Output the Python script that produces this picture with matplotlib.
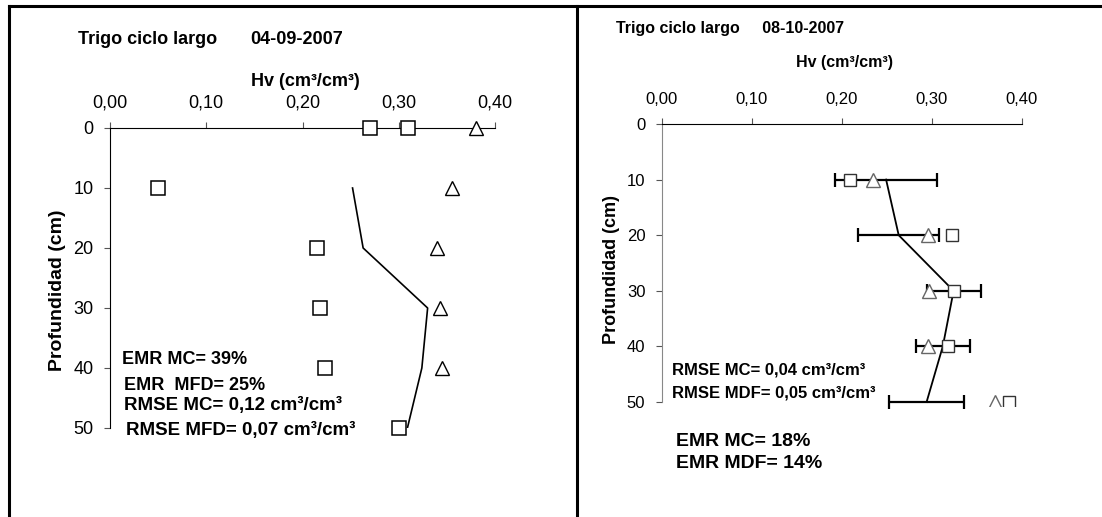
import numpy as np
import matplotlib.pyplot as plt
from matplotlib.lines import Line2D
from matplotlib.ticker import FuncFormatter

plt.rcParams['font.family'] = ['Liberation Sans', 'DejaVu Sans']

W, H = 1102, 517

# ---- left panel: Trigo ciclo largo 04-09-2007
l_sq_depth = [0, 0, 10, 20, 30, 40, 50]
l_sq_hv = [0.27, 0.31, 0.05, 0.215, 0.218, 0.223, 0.30]
l_tri_depth = [0, 10, 20, 30, 40]
l_tri_hv = [0.38, 0.355, 0.340, 0.343, 0.345]
l_line_depth = [10, 20, 30, 40, 50]
l_line_hv = [0.252, 0.263, 0.330, 0.324, 0.309]

# ---- right panel: Trigo ciclo largo 08-10-2007
r_line_depth = [10, 20, 30, 40, 50]
r_line_hv = [0.249, 0.263, 0.324, 0.312, 0.294]
r_line_err = [0.057, 0.045, 0.030, 0.030, 0.0415]
r_sq_depth = [10, 20, 30, 40, 50]
r_sq_hv = [0.209, 0.322, 0.324, 0.318, 0.385]
r_tri_depth = [10, 20, 30, 40, 50]
r_tri_hv = [0.234, 0.295, 0.297, 0.296, 0.370]

xticks = [0.0, 0.1, 0.2, 0.3, 0.4]
yticks = [0, 10, 20, 30, 40, 50]


def fx(px):
    return px / W


def fy(py):
    return 1 - py / H


def box(x0, x1, y0, y1):
    return [fx(x0), fy(y1), fx(x1) - fx(x0), fy(y0) - fy(y1)]


comma = FuncFormatter(lambda v, p: ('%.2f' % v).replace('.', ','))

fig = plt.figure(figsize=(W / 100, H / 100), dpi=100)


def setup(ax, ylim, fs, lcolor):
    ax.set_xlim(0, 0.4)
    ax.set_ylim(ylim, 0)
    ax.xaxis.tick_top()
    ax.set_xticks(xticks)
    ax.set_yticks(yticks)
    ax.xaxis.set_major_formatter(comma)
    for s in ['bottom', 'right']:
        ax.spines[s].set_visible(False)
    ax.spines['top'].set_color('black')
    ax.spines['left'].set_color(lcolor)
    ax.spines['left'].set_bounds(0, 50)
    ax.tick_params(axis='x', direction='out', length=4, width=0.8, pad=8,
                   labelsize=fs, color='#555555')
    ax.tick_params(axis='y', direction='out', length=4, width=0.8, pad=8,
                   labelsize=fs, color='#555555')
    ax.patch.set_alpha(0)


# left axes
ax1 = fig.add_axes(box(110, 495, 128, 428))
setup(ax1, 50, 13, 'black')
ax1.plot(l_line_hv, l_line_depth, color='black', lw=1.2, zorder=3)
ax1.plot(l_sq_hv, l_sq_depth, ls='none', marker='s', ms=9.5, mfc='white',
         mec='black', mew=1.1, zorder=4, clip_on=False)
ax1.plot(l_tri_hv, l_tri_depth, ls='none', marker='^', ms=10, mfc='white',
         mec='black', mew=1.0, zorder=4, clip_on=False)

# right axes (markers at 50 cm are cut by the plot area, as in the source)
r_scale = 5.56
ax2 = fig.add_axes(box(662, 1022, 124, 124 + 50.8 * r_scale))
setup(ax2, 50.8, 12, '#888888')
ax2.errorbar(r_line_hv, r_line_depth, xerr=r_line_err, color='black', lw=1.3,
             elinewidth=1.6, capsize=5, capthick=1.6, zorder=3, clip_on=False)
ax2.plot(r_sq_hv, r_sq_depth, ls='none', marker='s', ms=9, mfc='white',
         mec='#333333', mew=1.0, zorder=4)
ax2.plot(r_tri_hv, r_tri_depth, ls='none', marker='^', ms=9.5, mfc='white',
         mec='#666666', mew=1.0, zorder=4)

bold = dict(fontweight='bold', color='black')

# titles and axis labels
fig.text(fx(78), fy(40), 'Trigo ciclo largo', fontsize=13, va='center', **bold)
fig.text(fx(250), fy(40), '04-09-2007', fontsize=13, va='center', **bold)
fig.text(fx(305), fy(82), 'Hv (cm³/cm³)', fontsize=13, ha='center', va='center', **bold)
fig.text(fx(57), fy(290), 'Profundidad (cm)', fontsize=14, rotation=90,
         ha='center', va='center', **bold)

fig.text(fx(616), fy(28), 'Trigo ciclo largo     08-10-2007', fontsize=11.5,
         va='center', **bold)
fig.text(fx(845), fy(63), 'Hv (cm³/cm³)', fontsize=11.5, ha='center', va='center', **bold)
fig.text(fx(612), fy(270), 'Profundidad (cm)', fontsize=13, rotation=90,
         ha='center', va='center', **bold)

# stats
fig.text(fx(122), fy(360), 'EMR MC= 39%', fontsize=13, va='center', **bold)
fig.text(fx(124), fy(385), 'EMR  MFD= 25%', fontsize=13, va='center', **bold)
fig.text(fx(124), fy(405), 'RMSE MC= 0,12 cm³/cm³', fontsize=13.5, va='center', **bold)
fig.text(fx(126), fy(430), 'RMSE MFD= 0,07 cm³/cm³', fontsize=13.5, va='center', **bold)

fig.text(fx(672), fy(370), 'RMSE MC= 0,04 cm³/cm³', fontsize=12, va='center', **bold)
fig.text(fx(672), fy(393), 'RMSE MDF= 0,05 cm³/cm³', fontsize=12, va='center', **bold)
fig.text(fx(676), fy(441), 'EMR MC= 18%', fontsize=14, va='center', **bold)
fig.text(fx(676), fy(464), 'EMR MDF= 14%', fontsize=14, va='center', **bold)

# panel frame lines
frame = dict(color='black', lw=2.2, transform=fig.transFigure)
fig.add_artist(Line2D([fx(8.5), 1], [fy(5.5), fy(5.5)], **frame))
fig.add_artist(Line2D([fx(8.5), fx(8.5)], [fy(5.5), 0], **frame))
fig.add_artist(Line2D([fx(576.5), fx(576.5)], [fy(5.5), 0], **frame))

fig.savefig('out.png', dpi=100)
